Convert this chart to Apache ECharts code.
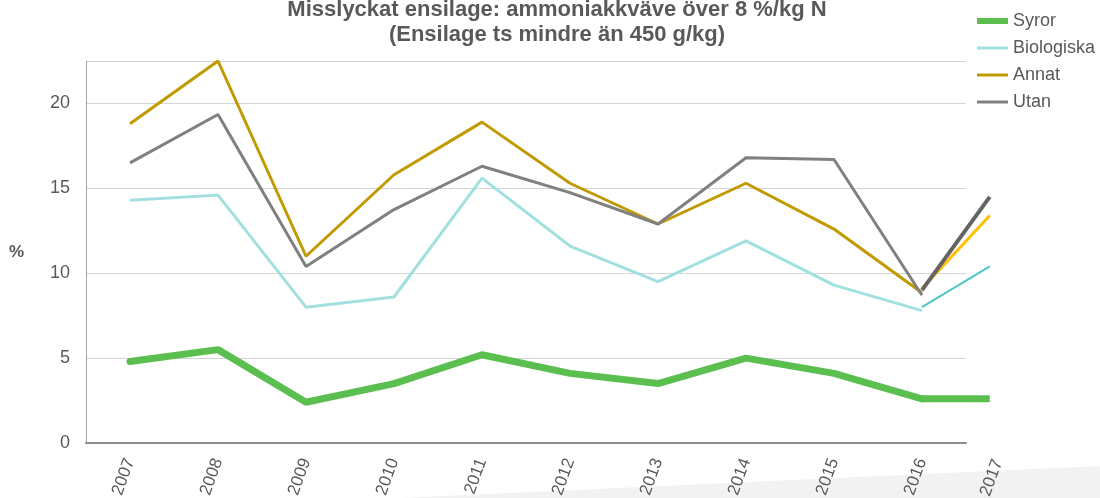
<!DOCTYPE html>
<html>
<head>
<meta charset="utf-8">
<script src="https://cdn.jsdelivr.net/npm/echarts@6/dist/echarts.min.js"></script>
<style>
  html, body { margin: 0; padding: 0; background: #fff; }
  #chart { width: 1100px; height: 498px; }
</style>
</head>
<body>
<div id="chart"></div>
<script>
var years = ['2007', '2008', '2009', '2010', '2011', '2012', '2013', '2014', '2015', '2016'];
var syror = [4.8, 5.5, 2.4, 3.5, 5.2, 4.1, 3.5, 5.0, 4.1, 2.6];
var biologiska = [14.3, 14.6, 8.0, 8.6, 15.6, 11.6, 9.5, 11.9, 9.3, 7.8];
var annat = [18.8, 22.5, 11.0, 15.8, 18.9, 15.3, 12.9, 15.3, 12.6, 8.85];
var utan = [16.5, 19.35, 10.4, 13.75, 16.3, 14.75, 12.9, 16.8, 16.7, 8.7];

// 2016 -> 2017 extension segments
var ext2017Label = '2017';
var syrorExt = [2.6, 2.6];
var biologiskaExt = [8.0, 10.4];
var annatExt = [9.1, 13.4];
var utanExt = [9.0, 14.5];

var textColor = '#595959';
var font = 'Liberation Sans, Arial, sans-serif';

var chart = echarts.init(document.getElementById('chart'));

function extData(vals) {
  // x on hidden value axis of grid 2: category i sits at i + 0.5
  return [[9.5, vals[0]], [10.27, vals[1]]];
}

var option = {
  backgroundColor: '#fff',
  animation: false,
  title: {
    text: 'Misslyckat ensilage: ammoniakkväve över 8 %/kg N\n(Ensilage ts mindre än 450 g/kg)',
    left: 552,
    textAlign: 'center',
    top: -8,
    textStyle: {
      color: textColor,
      fontFamily: font,
      fontSize: 22,
      fontWeight: 'bold',
      lineHeight: 25
    }
  },
  legend: [{
    orient: 'vertical',
    left: 972,
    top: 7,
    icon: 'rect',
    itemWidth: 31,
    itemHeight: 6,
    textStyle: { color: textColor, fontFamily: font, fontSize: 18 },
    data: ['Syror']
  }, {
    orient: 'vertical',
    left: 972,
    top: 34,
    icon: 'rect',
    itemWidth: 31,
    itemHeight: 3,
    itemGap: 9,
    textStyle: { color: textColor, fontFamily: font, fontSize: 18 },
    data: ['Biologiska', 'Annat', 'Utan']
  }],
  grid: [
    { left: 86, right: 134, top: 61, bottom: 55, outerBoundsMode: 'none' },
    { left: 86, right: 46, top: 61, bottom: 55, outerBoundsMode: 'none' }
  ],
  xAxis: [{
    type: 'category',
    gridIndex: 0,
    data: years,
    boundaryGap: true,
    axisTick: { show: false },
    axisLine: { lineStyle: { color: '#8c8c8c', width: 2 } },
    axisLabel: {
      rotate: 70,
      margin: 16,
      color: textColor,
      fontFamily: font,
      fontSize: 17
    }
  }, {
    type: 'value',
    gridIndex: 1,
    min: 0,
    max: 11,
    show: false
  }],
  yAxis: [{
    type: 'value',
    gridIndex: 0,
    min: 0,
    max: 22.5,
    interval: 5,
    name: '%',
    nameLocation: 'middle',
    nameGap: 62,
    nameRotate: 0,
    nameTextStyle: { color: textColor, fontFamily: font, fontSize: 17, fontWeight: 'bold' },
    axisLine: { show: true, lineStyle: { color: '#a6a6a6', width: 1 } },
    axisTick: { show: false },
    axisLabel: { color: textColor, fontFamily: font, fontSize: 18, margin: 16, showMaxLabel: false },
    splitLine: { lineStyle: { color: '#d4d4d4', width: 1 } }
  }, {
    type: 'value',
    gridIndex: 1,
    min: 0,
    max: 22.5,
    show: false
  }],
  graphic: [{
    type: 'polygon',
    z: -1,
    shape: { points: [[400, 498], [1100, 466], [1100, 498]] },
    style: { fill: '#f2f2f2' }
  }, {
    type: 'text',
    x: 998,
    y: 460,
    rotation: 70 * Math.PI / 180,
    style: {
      text: ext2017Label,
      fill: textColor,
      font: '17px ' + font,
      textAlign: 'right',
      textVerticalAlign: 'middle'
    }
  }],
  series: [
    {
      name: 'Syror', type: 'line', data: syror, symbol: 'none', z: 5,
      lineStyle: { color: '#5bbf50', width: 7, cap: 'round' },
      itemStyle: { color: '#5bbf50' }
    },
    {
      name: 'Biologiska', type: 'line', data: biologiska, symbol: 'none',
      lineStyle: { color: '#a2e0df', width: 3 },
      itemStyle: { color: '#a2e0df' }
    },
    {
      name: 'Annat', type: 'line', data: annat, symbol: 'none',
      lineStyle: { color: '#c09a00', width: 3 },
      itemStyle: { color: '#c09a00' }
    },
    {
      name: 'Utan', type: 'line', data: utan, symbol: 'none',
      lineStyle: { color: '#808080', width: 3 },
      itemStyle: { color: '#808080' }
    },
    {
      name: 'Syror2017', type: 'line', xAxisIndex: 1, yAxisIndex: 1, data: extData(syrorExt), symbol: 'none', z: 5,
      lineStyle: { color: '#5bbf50', width: 7 }
    },
    {
      name: 'Biologiska2017', type: 'line', xAxisIndex: 1, yAxisIndex: 1, data: extData(biologiskaExt), symbol: 'none',
      lineStyle: { color: '#4ec6c6', width: 2 }
    },
    {
      name: 'Annat2017', type: 'line', xAxisIndex: 1, yAxisIndex: 1, data: extData(annatExt), symbol: 'none',
      lineStyle: { color: '#ffc000', width: 3 }
    },
    {
      name: 'Utan2017', type: 'line', xAxisIndex: 1, yAxisIndex: 1, data: extData(utanExt), symbol: 'none',
      lineStyle: { color: '#646464', width: 4 }
    }
  ]
};

chart.setOption(option);
</script>
</body>
</html>
